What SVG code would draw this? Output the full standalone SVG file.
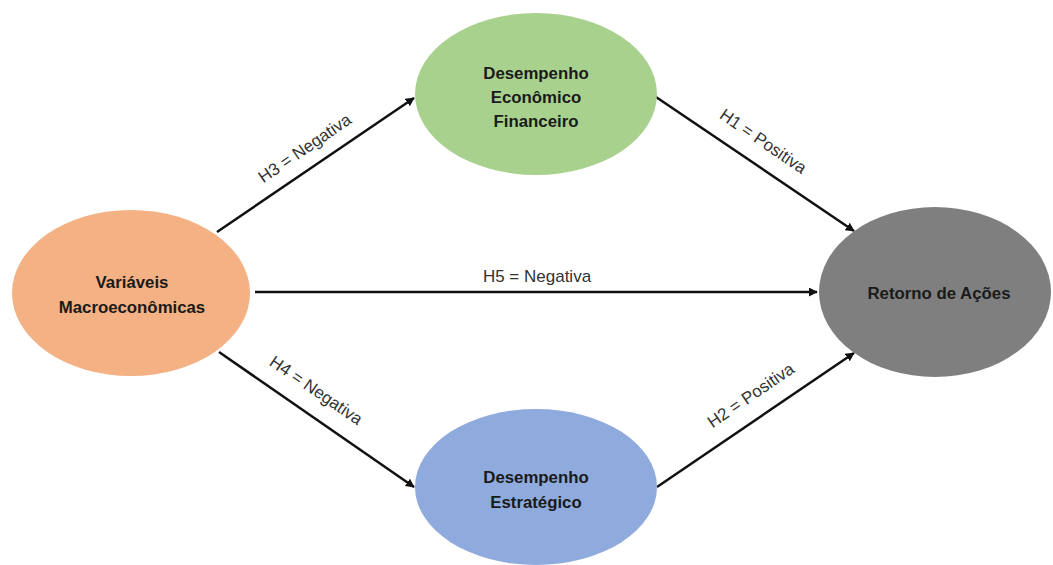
<svg xmlns="http://www.w3.org/2000/svg" width="1053" height="565" viewBox="0 0 1053 565">
  <defs>
    <marker id="ah" viewBox="0 0 10 10" refX="9" refY="5" markerWidth="3.6" markerHeight="3.6" orient="auto" markerUnits="strokeWidth">
      <path d="M0,0 L10,5 L0,10 z" fill="#111"/>
    </marker>
    <style>
      .edge { stroke: #111; stroke-width: 2.5; fill: none; marker-end: url(#ah); }
      .lbl { font-family: "Liberation Sans", Arial, sans-serif; font-size: 17px; fill: #333; text-anchor: middle; }
      .nt { font-family: "Liberation Sans", Arial, sans-serif; font-size: 16.8px; font-weight: bold; fill: #1a1a1a; text-anchor: middle; }
    </style>
  </defs>
  <rect width="1053" height="565" fill="#ffffff"/>

  <g id="connectors">
    <line class="edge" x1="217" y1="232" x2="414" y2="98"/>
    <line class="edge" x1="656" y1="97" x2="854" y2="231"/>
    <line class="edge" x1="255" y1="292" x2="817" y2="292"/>
    <line class="edge" x1="219" y1="352" x2="414" y2="487"/>
    <line class="edge" x1="657" y1="487" x2="854" y2="353"/>
    <text class="lbl" transform="translate(308,153) rotate(-34.4)">H3 = Negativa</text>
    <text class="lbl" transform="translate(760,146) rotate(34.4)">H1 = Positiva</text>
    <text class="lbl" x="537" y="282">H5 = Negativa</text>
    <text class="lbl" transform="translate(313,395) rotate(34.4)">H4 = Negativa</text>
    <text class="lbl" transform="translate(754,400) rotate(-34.4)">H2 = Positiva</text>
  </g>

  <g id="node-macro">
    <ellipse cx="131" cy="293" rx="119" ry="83" fill="#F4B183"/>
    <text class="nt" x="132" y="288">Variáveis</text>
    <text class="nt" x="132" y="313">Macroeconômicas</text>
  </g>

  <g id="node-economico">
    <ellipse cx="536" cy="94" rx="121" ry="81" fill="#A9D18E"/>
    <text class="nt" x="536" y="79">Desempenho</text>
    <text class="nt" x="536" y="103">Econômico</text>
    <text class="nt" x="536" y="127">Financeiro</text>
  </g>

  <g id="node-estrategico">
    <ellipse cx="536" cy="487" rx="121" ry="78" fill="#8FAADC"/>
    <text class="nt" x="536" y="483">Desempenho</text>
    <text class="nt" x="536" y="508">Estratégico</text>
  </g>

  <g id="node-retorno">
    <ellipse cx="935" cy="292" rx="116" ry="85" fill="#7F7F7F"/>
    <text class="nt" x="939" y="299">Retorno de Ações</text>
  </g>
</svg>
